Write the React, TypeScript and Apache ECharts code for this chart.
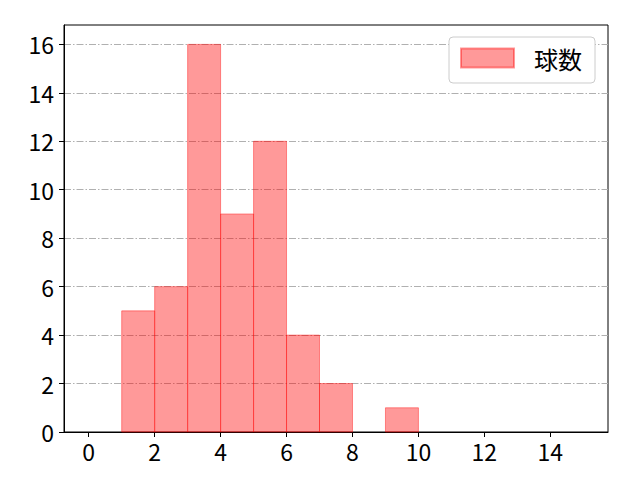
import React, { useEffect, useRef } from "react";
import * as echarts from "echarts";

const binStarts = [1, 2, 3, 4, 5, 6, 7, 9];
const binEnds = [2, 3, 4, 5, 6, 7, 8, 10];
const counts = [5, 6, 16, 9, 12, 4, 2, 1];
const xTicks = [0, 2, 4, 6, 8, 10, 12, 14];
const yTicks = [0, 2, 4, 6, 8, 10, 12, 14, 16];
const seriesName = "球数";

const FILL = "rgba(255,0,0,0.4)";
const EDGE = "rgba(255,0,0,0.4)";
const FONT = "Noto Sans CJK JP";

export default function App() {
  const ref = useRef<HTMLDivElement>(null);
  useEffect(() => {
    if (!ref.current) return;
    const chart = echarts.init(ref.current, undefined, { renderer: "svg" });
    const data = binStarts.map((s, i) => [s, binEnds[i], counts[i]]);
    chart.setOption({
      animation: false,
      grid: {
        left: 64,
        right: 32,
        top: 25,
        bottom: 48,
        show: true,
        borderColor: "#000",
        borderWidth: 1,
        backgroundColor: "transparent",
      },
      legend: {
        data: [seriesName],
        right: 45,
        top: 37,
        orient: "vertical",
        icon: "rect",
        itemWidth: 53,
        itemHeight: 19,
        padding: [9, 13, 13, 11],
        backgroundColor: "#fff",
        borderColor: "#cccccc",
        borderWidth: 1,
        borderRadius: 4,
        textStyle: {
          fontFamily: FONT,
          fontSize: 24,
          color: "#000",
          padding: [0, 0, 0, 15],
        },
      },
      xAxis: {
        type: "value",
        min: -0.75,
        max: 15.75,
        interval: 2,
        splitLine: { show: false },
        axisLine: { show: true, onZero: false, lineStyle: { color: "#000", width: 1 } },
        axisTick: { show: true, length: 5, lineStyle: { color: "#000" }, customValues: xTicks },
        axisLabel: {
          customValues: xTicks,
          fontFamily: FONT,
          fontSize: 23,
          color: "#000",
          margin: 7,
        },
      },
      yAxis: {
        type: "value",
        min: 0,
        max: 16.8,
        interval: 2,
        splitLine: {
          show: true,
          lineStyle: { color: "#b0b0b0", width: 1, type: [7, 2, 1.5, 2] },
        },
        axisLine: { show: true, onZero: false, lineStyle: { color: "#000", width: 1 } },
        axisTick: { show: true, length: 5, lineStyle: { color: "#000" }, customValues: yTicks },
        axisLabel: {
          customValues: yTicks,
          fontFamily: FONT,
          fontSize: 23,
          color: "#000",
          margin: 10,
        },
      },
      series: [
        {
          name: seriesName,
          type: "custom",
          itemStyle: { color: FILL, borderColor: EDGE, borderWidth: 1 },
          encode: { x: [0, 1], y: 2 },
          renderItem: (params: any, api: any) => {
            const p0 = api.coord([api.value(0), api.value(2)]);
            const p1 = api.coord([api.value(1), 0]);
            return {
              type: "rect",
              shape: { x: p0[0], y: p0[1], width: p1[0] - p0[0], height: p1[1] - p0[1] },
              style: { fill: FILL, stroke: EDGE, lineWidth: 1 },
            };
          },
          data,
        },
      ],
    });
    return () => chart.dispose();
  }, []);
  return (
    <div
      ref={ref}
      style={{ position: "absolute", left: 0, top: 0, width: 640, height: 480, background: "#fff" }}
    />
  );
}
